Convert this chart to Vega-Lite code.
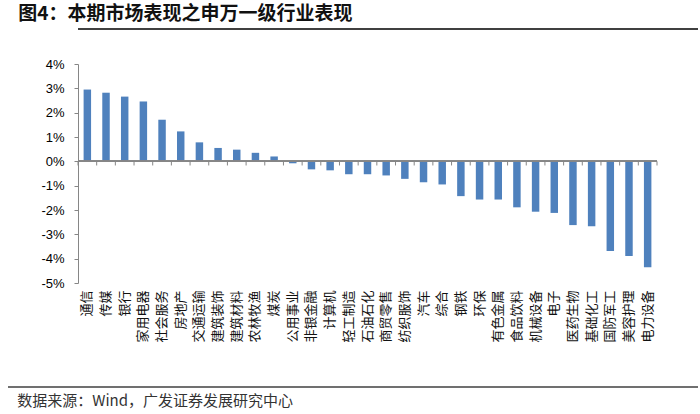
{
  "$schema": "https://vega.github.io/schema/vega-lite/v6.json",
  "padding": {"left": 7, "top": 5, "right": 0, "bottom": 0},
  "spacing": 28,
  "title": {"text": "图4：本期市场表现之申万一级行业表现", "anchor": "start", "dx": 11, "fontSize": 19, "fontWeight": "bold", "color": "#111111", "font": "Noto Sans CJK SC", "baseline": "top", "offset": 4},
  "config": {"view": {"stroke": null}, "font": "Noto Sans CJK SC"},
  "resolve": {"scale": {"x": "independent", "y": "independent"}},
  "vconcat": [
    {
      "width": 620,
      "height": 1,
      "data": {"values": [{"line": "header"}]},
      "mark": {"type": "rule", "color": "#000000", "strokeWidth": 1.5},
      "encoding": {
        "x": {"datum": 0, "type": "quantitative", "scale": {"domain": [0, 1]}, "axis": null},
        "x2": {"datum": 1},
        "y": {"datum": 0, "type": "quantitative", "scale": {"domain": [0, 1]}, "axis": null}
      }
    },
    {
      "width": 579,
      "height": 219,
      "data": {"values": [
        {"industry": "通信", "change": 2.95},
        {"industry": "传媒", "change": 2.82},
        {"industry": "银行", "change": 2.66},
        {"industry": "家用电器", "change": 2.46},
        {"industry": "社会服务", "change": 1.71},
        {"industry": "房地产", "change": 1.23},
        {"industry": "交通运输", "change": 0.78},
        {"industry": "建筑装饰", "change": 0.55},
        {"industry": "建筑材料", "change": 0.48},
        {"industry": "农林牧渔", "change": 0.35},
        {"industry": "煤炭", "change": 0.2},
        {"industry": "公用事业", "change": -0.08},
        {"industry": "非银金融", "change": -0.33},
        {"industry": "计算机", "change": -0.37},
        {"industry": "轻工制造", "change": -0.53},
        {"industry": "石油石化", "change": -0.53},
        {"industry": "商贸零售", "change": -0.58},
        {"industry": "纺织服饰", "change": -0.72},
        {"industry": "汽车", "change": -0.86},
        {"industry": "综合", "change": -0.95},
        {"industry": "钢铁", "change": -1.43},
        {"industry": "环保", "change": -1.57},
        {"industry": "有色金属", "change": -1.57},
        {"industry": "食品饮料", "change": -1.89},
        {"industry": "机械设备", "change": -2.07},
        {"industry": "电子", "change": -2.12},
        {"industry": "医药生物", "change": -2.62},
        {"industry": "基础化工", "change": -2.67},
        {"industry": "国防军工", "change": -3.68},
        {"industry": "美容护理", "change": -3.89},
        {"industry": "电力设备", "change": -4.35}
      ]},
      "layer": [
        {
          "mark": {"type": "bar", "width": {"band": 0.4}, "color": "#4F81BD"},
          "encoding": {
            "x": {"field": "industry", "type": "nominal", "sort": null,
              "scale": {"paddingInner": 0, "paddingOuter": 0},
              "axis": {"title": null, "orient": "bottom", "domain": false, "ticks": false, "labelAngle": -90, "labelFontSize": 13, "labelFont": "Noto Sans CJK SC", "labelColor": "#111111", "labelPadding": 7, "labelOverlap": false}},
            "y": {"field": "change", "type": "quantitative",
              "scale": {"domain": [-5, 4], "nice": false, "zero": false},
              "axis": {"title": null, "values": [-5, -4, -3, -2, -1, 0, 1, 2, 3, 4], "tickCount": 12, "labelExpr": "datum.value + '%'", "labelOverlap": false, "grid": false, "domainColor": "#868686", "tickColor": "#868686", "tickSize": 4, "labelPadding": 10, "labelFont": "Liberation Sans", "labelFontSize": 13, "labelColor": "#000000", "minExtent": 70}}
          }
        },
        {
          "mark": {"type": "rule", "color": "#868686"},
          "encoding": {"y": {"datum": 0, "type": "quantitative"}}
        },
        {
          "mark": {"type": "rule", "color": "#868686"},
          "encoding": {
            "x": {"field": "industry", "type": "nominal", "sort": null, "bandPosition": 0},
            "y": {"datum": 0, "type": "quantitative"},
            "y2": {"datum": -0.17}
          }
        },
        {
          "transform": [{"filter": "datum.industry === '电力设备'"}],
          "mark": {"type": "rule", "color": "#868686"},
          "encoding": {
            "x": {"field": "industry", "type": "nominal", "sort": null, "bandPosition": 1},
            "y": {"datum": 0, "type": "quantitative"},
            "y2": {"datum": -0.17}
          }
        }
      ]
    },
    {
      "width": 620,
      "height": 16,
      "title": {"text": "数据来源：Wind，广发证券发展研究中心", "orient": "bottom", "anchor": "start", "dx": 10, "fontSize": 15, "fontWeight": "normal", "color": "#333333", "font": "Noto Sans CJK SC", "baseline": "top", "offset": 6},
      "data": {"values": [{"line": "footer"}]},
      "mark": {"type": "rule", "color": "#404040", "strokeWidth": 1.5},
      "encoding": {
        "x": {"datum": 0, "type": "quantitative", "scale": {"domain": [0, 1], "range": [-70, 620]}, "axis": null},
        "x2": {"datum": 1},
        "y": {"datum": 0, "type": "quantitative", "scale": {"domain": [0, 1]}, "axis": null}
      }
    }
  ]
}
